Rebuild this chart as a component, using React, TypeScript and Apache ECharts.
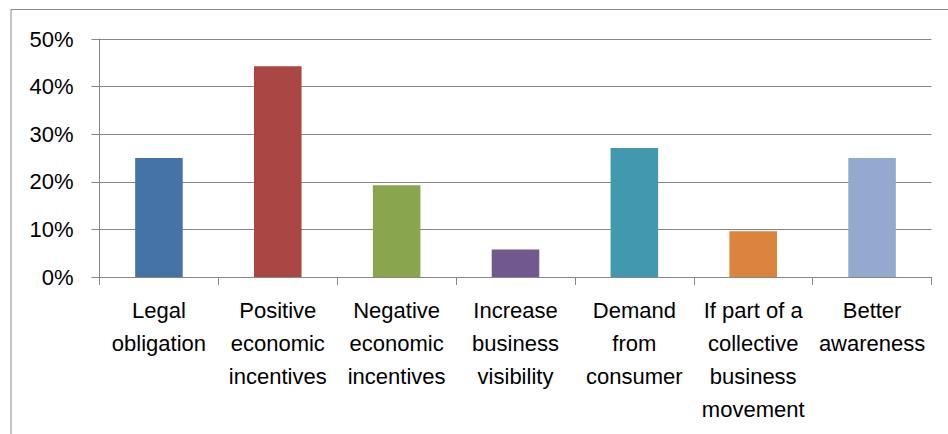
import React, { useEffect, useRef } from "react";
import * as echarts from "echarts";

const categories: string[] = [
  "Legal\nobligation",
  "Positive\neconomic\nincentives",
  "Negative\neconomic\nincentives",
  "Increase\nbusiness\nvisibility",
  "Demand\nfrom\nconsumer",
  "If part of a\ncollective\nbusiness\nmovement",
  "Better\nawareness",
];

const values: number[] = [25.0, 44.3, 19.3, 5.8, 27.1, 9.6, 25.0];

const barColors: string[] = [
  "#4572A7",
  "#AA4643",
  "#89A54E",
  "#71588F",
  "#4198AF",
  "#DB843D",
  "#93A9CF",
];

const yTicks: number[] = [0, 10, 20, 30, 40, 50];

export default function App() {
  const ref = useRef<HTMLDivElement>(null);

  useEffect(() => {
    if (!ref.current) return;
    const chart = echarts.init(ref.current, undefined, { renderer: "svg" });
    const gray = "#868686";
    chart.setOption({
      animation: false,
      backgroundColor: "#ffffff",
      graphic: [
        {
          type: "rect",
          shape: { x: 11, y: 9.5, width: 1000, height: 500 },
          style: { fill: "none", stroke: "#8a8a8a", lineWidth: 1 },
          silent: true,
        },
      ],
      grid: { left: 99.5, right: 16.5, top: 39, bottom: 157, containLabel: false },
      xAxis: {
        type: "category",
        data: categories,
        axisLine: { show: true, lineStyle: { color: gray, width: 1 } },
        axisTick: { show: true, length: 8, lineStyle: { color: gray } },
        axisLabel: {
          interval: 0,
          margin: 17,
          color: "#000",
          fontFamily: "'Liberation Sans', Arial, sans-serif",
          fontSize: 22,
          lineHeight: 33,
          hideOverlap: false,
        },
        splitLine: { show: false },
      },
      yAxis: {
        type: "value",
        min: yTicks[0],
        max: yTicks[yTicks.length - 1],
        interval: 10,
        axisLine: { show: true, lineStyle: { color: gray, width: 1 } },
        axisTick: { show: true, length: 8, lineStyle: { color: gray } },
        axisLabel: {
          margin: 26,
          color: "#000",
          fontFamily: "'Liberation Sans', Arial, sans-serif",
          fontSize: 22,
          formatter: (v: number) => `${v}%`,
        },
        splitLine: { show: true, lineStyle: { color: gray, width: 1 } },
      },
      series: [
        {
          type: "bar",
          barWidth: "40%",
          data: values.map((v, i) => ({ value: v, itemStyle: { color: barColors[i] } })),
        },
      ],
    });
    return () => chart.dispose();
  }, []);

  return (
    <div
      ref={ref}
      style={{ position: "fixed", left: 0, top: 0, width: 948, height: 434, background: "#fff" }}
    />
  );
}
